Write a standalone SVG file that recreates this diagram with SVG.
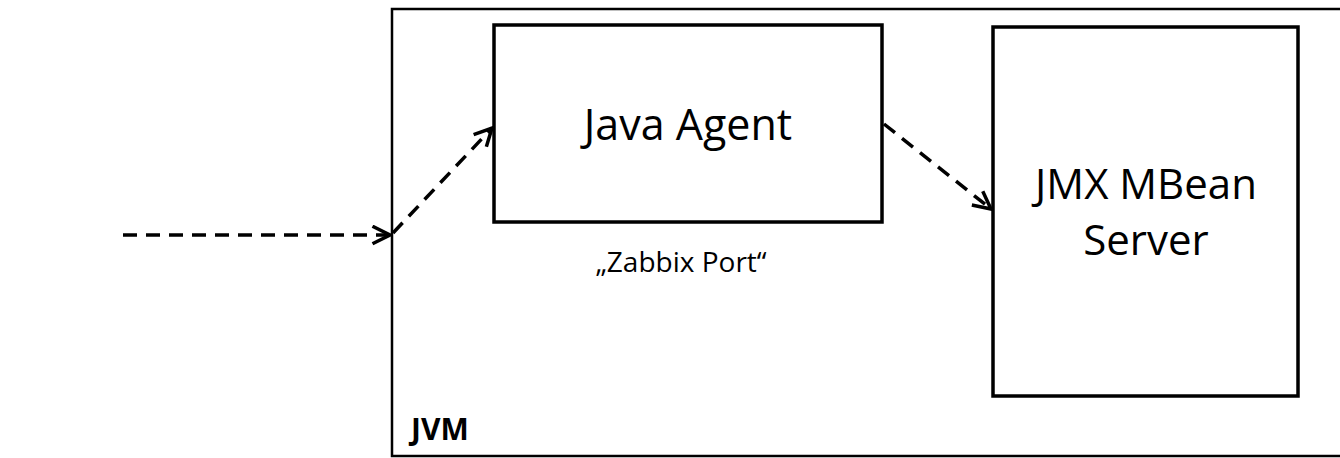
<svg xmlns="http://www.w3.org/2000/svg" width="1340" height="458" viewBox="0 0 1340 458">
<style>
.box{fill:#fff;stroke:#000;stroke-width:3.5}
.frame{fill:#fff;stroke:#000;stroke-width:2.5}
.t{font-family:"Open Sans","Liberation Sans",sans-serif;fill:#000}
.c{stroke:#000;stroke-width:3.5;stroke-dasharray:14,9;fill:none}
</style>
<defs>
<marker id="ah" viewBox="0 0 12 12" refX="11" refY="6" markerWidth="6" markerHeight="6" orient="auto" markerUnits="strokeWidth">
<path d="M1,1 L11,6 L1,11" fill="none" stroke="#000" stroke-width="2" stroke-dasharray="none"/>
</marker>
</defs>
<g id="jvm">
<rect class="frame" x="392" y="9" width="960" height="447"/>
<text class="t" x="411" y="440" font-size="30" font-weight="bold">JVM</text>
</g>
<g id="java-agent">
<rect class="box" x="494" y="25" width="388" height="197"/>
<text class="t" x="688" y="140" font-size="43" text-anchor="middle">Java Agent</text>
</g>
<g id="jmx">
<rect class="box" x="993" y="27" width="305" height="369"/>
<text class="t" x="1146" y="199" font-size="42" text-anchor="middle">JMX MBean</text>
<text class="t" x="1146" y="255" font-size="42" text-anchor="middle">Server</text>
</g>
<g id="label">
<text class="t" x="681" y="272" font-size="28" text-anchor="middle">„Zabbix Port“</text>
</g>
<g id="connectors">
<line class="c" x1="123" y1="235" x2="390" y2="235" marker-end="url(#ah)"/>
<line class="c" x1="393" y1="233" x2="492" y2="128" marker-end="url(#ah)"/>
<line class="c" x1="884" y1="124" x2="991" y2="209" marker-end="url(#ah)"/>
</g>
</svg>
